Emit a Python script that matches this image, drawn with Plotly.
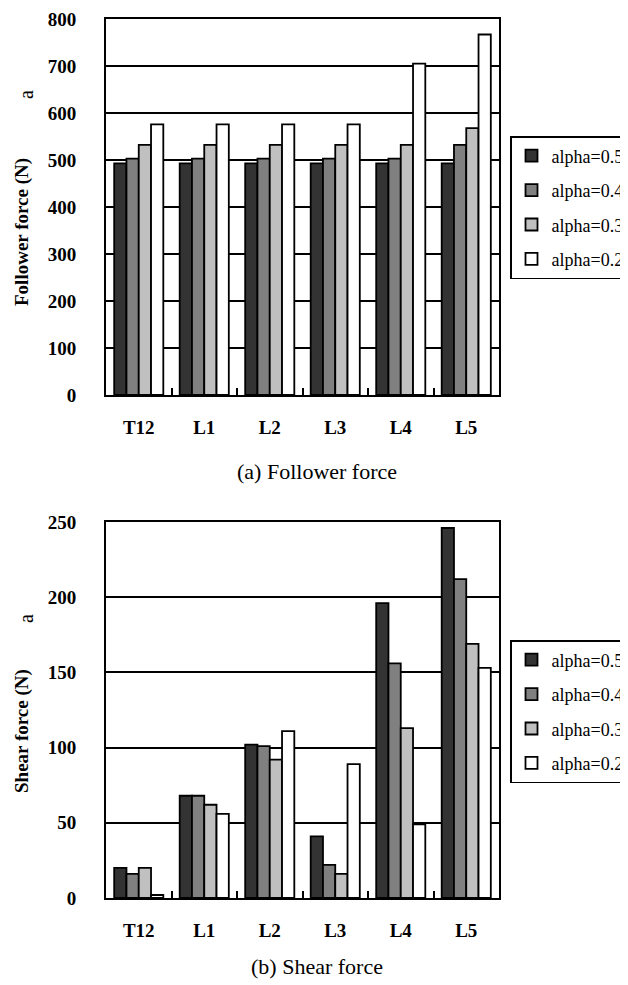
import plotly.graph_objects as go

categories = ["T12", "L1", "L2", "L3", "L4", "L5"]
series_names = ["alpha=0.5", "alpha=0.4", "alpha=0.3", "alpha=0.2"]

follower_05 = [493, 493, 493, 493, 493, 493]
follower_04 = [503, 503, 503, 503, 503, 532]
follower_03 = [532, 532, 532, 532, 532, 568]
follower_02 = [576, 576, 576, 576, 705, 767]

shear_05 = [20, 68, 102, 41, 196, 246]
shear_04 = [16, 68, 101, 22, 156, 212]
shear_03 = [20, 62, 92, 16, 113, 169]
shear_02 = [2, 56, 111, 89, 49, 153]

follower_ticks = [0, 100, 200, 300, 400, 500, 600, 700, 800]
shear_ticks = [0, 50, 100, 150, 200, 250]

colors = ["#333333", "#808080", "#c0c0c0", "#ffffff"]
follower = [follower_05, follower_04, follower_03, follower_02]
shear = [shear_05, shear_04, shear_03, shear_02]

# The page body has an 8px default margin: figure is sized to fit the window.
OFF = 8
FW, FH = 628 - OFF, 985 - OFF
SERIF = "Liberation Serif, Times New Roman, serif"

def fx(px):
    return (px - OFF) / FW

def fy(py):
    return 1 - (py - OFF) / FH

fig = go.Figure()
for i, name in enumerate(series_names):
    fig.add_trace(go.Bar(
        x=categories, y=follower[i], name=name,
        marker=dict(color=colors[i], line=dict(color="black", width=1.8)),
        xaxis="x", yaxis="y", legend="legend", legendgroup="a%d" % i,
    ))
for i, name in enumerate(series_names):
    fig.add_trace(go.Bar(
        x=categories, y=shear[i], name=name,
        marker=dict(color=colors[i], line=dict(color="black", width=1.8)),
        xaxis="x2", yaxis="y2", legend="legend2", legendgroup="b%d" % i,
    ))

axis_common = dict(
    showline=True, linecolor="black", linewidth=2, mirror=True,
    tickfont=dict(family=SERIF, size=19, color="black", weight="bold"),
)

legend_common = dict(
    xanchor="left", yanchor="top",
    bgcolor="white", bordercolor="black", borderwidth=1.5,
    font=dict(family=SERIF, size=18, color="black"),
    traceorder="grouped", tracegroupgap=8, itemwidth=30,
)

fig.update_layout(
    width=FW, height=FH,
    margin=dict(l=0, r=0, t=0, b=0, autoexpand=False),
    paper_bgcolor="white", plot_bgcolor="white",
    barmode="group", bargap=0.25, bargroupgap=0,
    xaxis=dict(domain=[fx(106), fx(499)], anchor="y", ticks="inside", tickson="boundaries",
               ticklen=7, tickwidth=1.5, tickcolor="black", showgrid=False,
               ticklabelstandoff=14, **axis_common),
    yaxis=dict(domain=[fy(395), fy(19)], anchor="x", range=[0, 800],
               tickvals=follower_ticks, showgrid=True, gridcolor="black", gridwidth=1.5,
               ticks="", ticklabelstandoff=24, zeroline=False, **axis_common),
    xaxis2=dict(domain=[fx(106), fx(499)], anchor="y2", ticks="inside", tickson="boundaries",
                ticklen=7, tickwidth=1.5, tickcolor="black", showgrid=False,
                ticklabelstandoff=14, **axis_common),
    yaxis2=dict(domain=[fy(898), fy(522)], anchor="x2", range=[0, 250],
                tickvals=shear_ticks, showgrid=True, gridcolor="black", gridwidth=1.5,
                ticks="", ticklabelstandoff=24, zeroline=False, **axis_common),
    legend=dict(x=fx(510), y=fy(136), **legend_common),
    legend2=dict(x=fx(510), y=fy(640), **legend_common),
    showlegend=True,
)

def ann(text, x, y, size, bold=False, angle=0):
    fig.add_annotation(
        text=text, x=fx(x), y=fy(y), xref="paper", yref="paper",
        showarrow=False, textangle=angle, xanchor="center", yanchor="middle",
        font=dict(family=SERIF, size=size, color="black", weight="bold" if bold else "normal"),
    )

ann("Follower force (N)", 22, 232, 19, bold=True, angle=-90)
ann("a", 26, 95, 20, angle=-90)
ann("Shear force (N)", 22, 731, 19, bold=True, angle=-90)
ann("a", 26, 619, 20, angle=-90)
ann("(a) Follower force", 317, 471, 22)
ann("(b) Shear force", 317, 966, 22)

fig.write_html("out.html")
